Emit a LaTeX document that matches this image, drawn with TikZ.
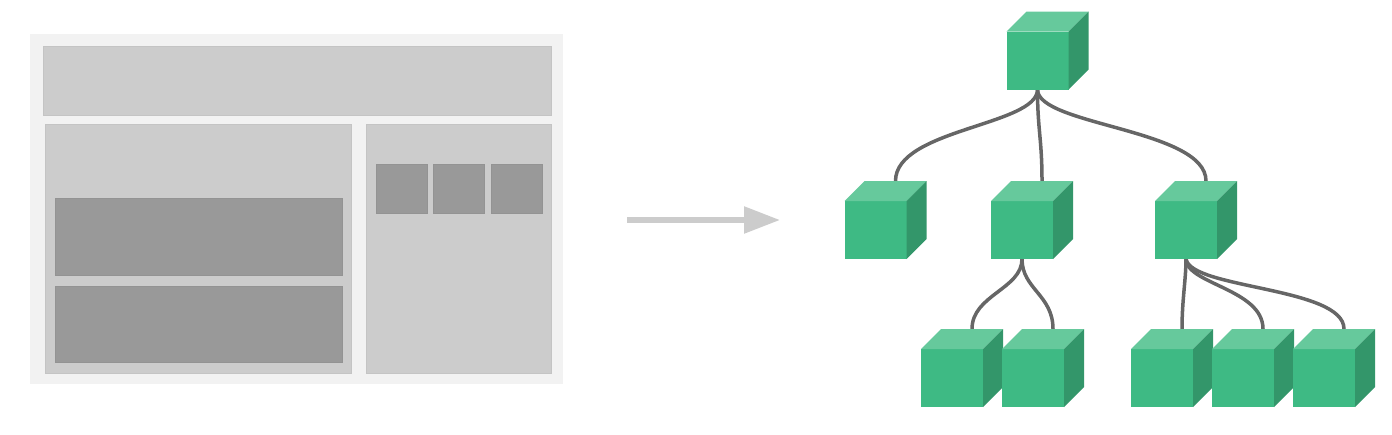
\documentclass[tikz,border=0pt]{standalone}
\usetikzlibrary{arrows.meta,backgrounds}

\definecolor{pagebg}{HTML}{F2F2F2}
\definecolor{panel}{HTML}{CCCCCC}
\definecolor{panelline}{HTML}{C4C4C4}
\definecolor{block}{HTML}{999999}
\definecolor{blockline}{HTML}{939393}
\definecolor{cubefront}{HTML}{3EBA84}
\definecolor{cubetop}{HTML}{66C99C}
\definecolor{cubeside}{HTML}{33966A}
\definecolor{wiregray}{HTML}{666666}

\tikzset{
  front/.style={fill=cubefront, minimum width=62pt, minimum height=58pt, inner sep=0pt, outer sep=0pt},
  wire/.style={draw=wiregray, line width=3.5pt, line cap=round},
  box/.style={fill=panel, draw=panelline, line width=0.8pt},
  darkbox/.style={fill=block, draw=blockline, line width=0.8pt},
}

\newcommand{\vuecube}[3]{%
  \node[front] (#1) at (#2,#3) {};
  \fill[cubetop] (#1.north west) -- ++(20,-20) -- ++(62,0) -- (#1.north east) -- cycle;
  \fill[cubeside] (#1.north east) -- ++(20,-20) -- ++(0,58) -- (#1.south east) -- cycle;
  \coordinate (#1-in) at ([shift={(20,-20)}]#1.north);
}

\begin{document}
\begin{tikzpicture}[x=1pt,y=-1pt]
    \useasboundingbox (0,0) rectangle (1392,434);

    % 画面レイアウト
    \fill[pagebg] (30,34) rectangle (563,384);
    \draw[box] (43,46) rectangle (551,115);
    \draw[box] (45,124) rectangle (351,373);
    \draw[box] (366,124) rectangle (551,373);
    \draw[darkbox] (55,198) rectangle (342,275);
    \draw[darkbox] (55,286) rectangle (342,362);
    \draw[darkbox] (376,164) rectangle (427,213);
    \draw[darkbox] (433,164) rectangle (484,213);
    \draw[darkbox] (491,164) rectangle (542,213);

    % 矢印
    \coordinate (arrow-s) at (627,220);
    \coordinate (arrow-e) at (780,220);
    \draw[line width=5.5pt, panel, -{Triangle[length=36pt,width=26pt]}] (arrow-s) -- (arrow-e);

    % ルート
    \vuecube{root}{1037.5}{60.5}

    % 第1層
    \vuecube{a}{875.5}{230}
    \vuecube{b}{1022}{230}
    \vuecube{c}{1186}{230}

    % 第2層
    \vuecube{b1}{952}{378}
    \vuecube{b2}{1033}{378}
    \vuecube{c1}{1162}{378}
    \vuecube{c2}{1243}{378}
    \vuecube{c3}{1324}{378}

    % 接続線
    \begin{scope}[on background layer]
      \draw[wire] (root.south) .. controls +(0,36) and +(0,-52) .. (a-in);
      \draw[wire] (root.south) .. controls +(0,40) and +(0,-42) .. (b-in);
      \draw[wire] (root.south) .. controls +(0,36) and +(0,-52) .. (c-in);
      \draw[wire] (b.south) .. controls +(0,30) and +(0,-34) .. (b1-in);
      \draw[wire] (b.south) .. controls +(0,30) and +(0,-34) .. (b2-in);
      \draw[wire] (c.south) .. controls +(0,20) and +(0,-29) .. (c1-in);
      \draw[wire] (c.south) .. controls +(0,25) and +(0,-40) .. (c2-in);
      \draw[wire] (c.south) .. controls +(5,30) and +(0,-42) .. (c3-in);
    \end{scope}
\end{tikzpicture}
\end{document}
